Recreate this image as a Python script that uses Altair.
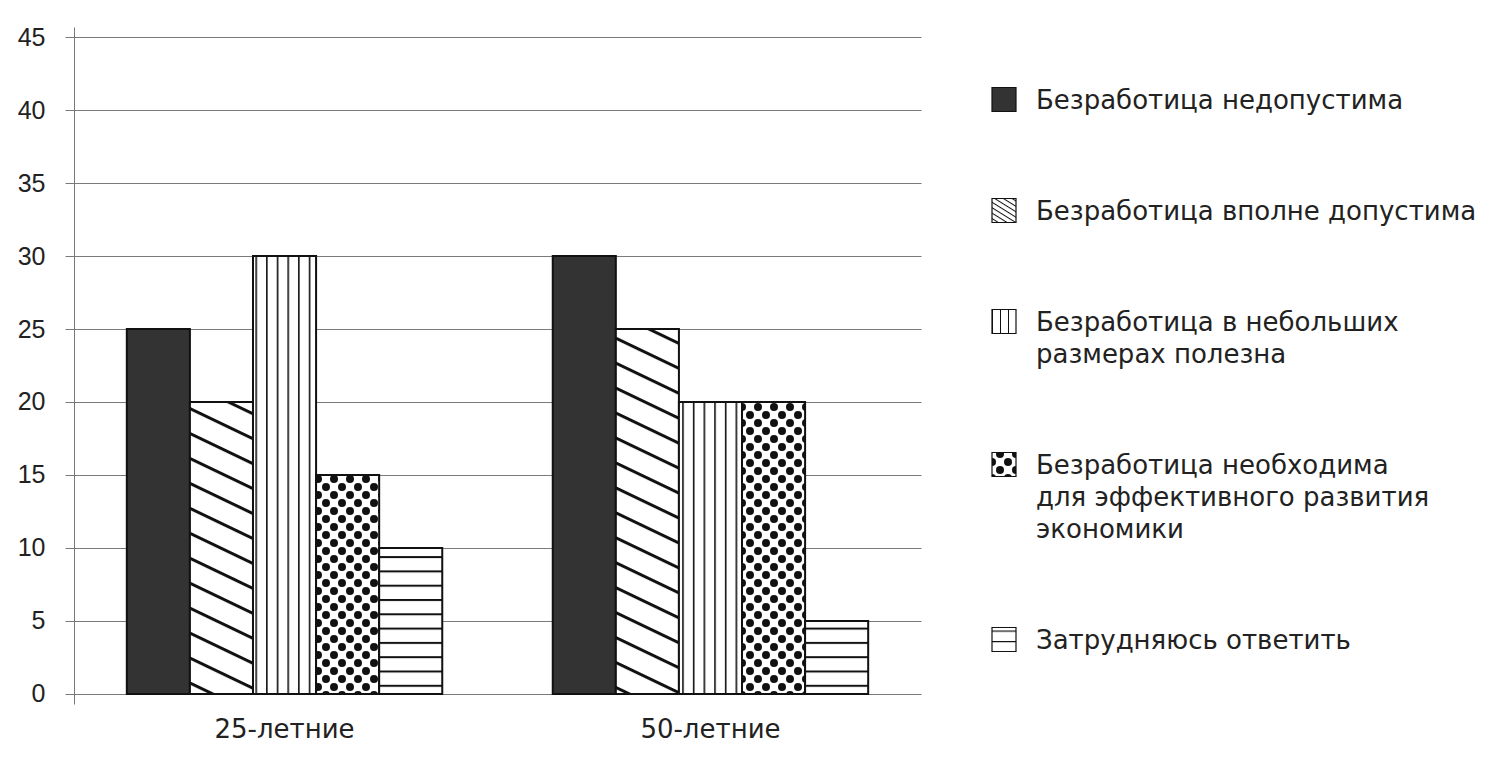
import altair as alt
import pandas as pd
import jinja2

# ---------------- data ----------------
groups = ["25-летние", "50-летние"]
series = [
    "Безработица недопустима",
    "Безработица вполне допустима",
    "Безработица в небольших\nразмерах полезна",
    "Безработица необходима\nдля эффективного развития\nэкономики",
    "Затрудняюсь ответить",
]
values_25 = [25, 20, 30, 15, 10]
values_50 = [30, 25, 20, 20, 5]
y_ticks = [0, 5, 10, 15, 20, 25, 30, 35, 40, 45]

# fills: solid dark + SVG patterns defined in the page template
fills = ["#333333", "url(#p-diag)", "url(#p-vert)", "url(#p-dots)", "url(#p-horiz)"]
legend_fills = ["#333333", "url(#p-diag-s)", "url(#p-vert-s)", "url(#p-dots)", "url(#p-horiz-s)"]

rows = []
for g, vals in zip(groups, [values_25, values_50]):
    for s, v in zip(series, vals):
        rows.append({"group": g, "series": s, "value": v})
df = pd.DataFrame(rows)

FONT = "DejaVu Sans"
AXIS_GRAY = "#7a7a7a"

x_enc = alt.X(
    "group:N",
    sort=groups,
    scale=alt.Scale(paddingInner=0.2594, paddingOuter=0.124),
    axis=alt.Axis(
        title=None, labelAngle=0, domain=False, ticks=False, grid=False,
        labelFont=FONT, labelFontSize=26, labelColor="#222222", labelPadding=12,
    ),
)
xoff_enc = alt.XOffset("series:N", sort=series,
                       scale=alt.Scale(paddingInner=0, paddingOuter=0))
y_enc = alt.Y(
    "value:Q",
    scale=alt.Scale(domain=[-0.69, 45.69], nice=False, zero=False),
    axis=alt.Axis(
        title=None, values=y_ticks, grid=True, gridColor=AXIS_GRAY, gridWidth=1,
        domain=True, domainColor=AXIS_GRAY, domainWidth=1,
        ticks=True, tickSize=9, tickColor=AXIS_GRAY, tickWidth=1,
        labelFont="Liberation Sans", labelFontSize=25, labelColor="#222222",
        labelPadding=20,
    ),
)

bars = alt.Chart(df).mark_bar(stroke="#111111", strokeWidth=2).encode(
    x=x_enc,
    xOffset=xoff_enc,
    y=y_enc,
    y2=alt.datum(0),
    fill=alt.Fill(
        "series:N",
        sort=series,
        scale=alt.Scale(domain=series, range=fills),
        legend=None,
    ),
)

# invisible twin layer that only carries the legend (with finer legend patterns)
legend_layer = alt.Chart(df).mark_bar(stroke="#111111", strokeWidth=1.2, opacity=0).encode(
    x=x_enc,
    xOffset=xoff_enc,
    y=y_enc,
    y2=alt.datum(0),
    fill=alt.Fill(
        "series:N",
        sort=series,
        scale=alt.Scale(domain=series, range=legend_fills),
        legend=alt.Legend(
            title=None, orient="none", legendX=917, legendY=69,
            symbolType="M-1,-1.79H1V0.21H-1Z", symbolSize=576,
            symbolStrokeColor="#111111", symbolStrokeWidth=1.2, symbolOpacity=1,
            labelFont=FONT, labelFontSize=26, labelColor="#222222",
            labelOffset=19, labelLimit=700, labelBaseline="alphabetic",
            labelExpr="split(datum.label, '\\n')",
            rowPadding=82, padding=0, gridAlign="each",
        ),
    ),
)

chart = alt.layer(bars, legend_layer).resolve_scale(
    fill="independent"
).resolve_legend(
    fill="independent"
).properties(
    width=847,
    height=677,
    padding={"left": 66, "top": 19, "right": 570, "bottom": 55},
    autosize=alt.AutoSizeParams(type="none"),
).configure(
    style={"guide-label": {"lineHeight": 32}},
    view=alt.ViewConfig(stroke=None),
)

PATTERN_DEFS = """
<svg width="0" height="0" style="position:absolute;left:0;top:0" aria-hidden="true">
  <defs>
    <pattern id="p-diag" patternUnits="userSpaceOnUse" width="20" height="22.5" patternTransform="rotate(25.6)">
      <rect width="20" height="22.5" fill="#ffffff"/>
      <rect y="0" width="20" height="3" fill="#111111"/>
    </pattern>
    <pattern id="p-vert" patternUnits="userSpaceOnUse" width="10.67" height="10">
      <rect width="10.67" height="10" fill="#ffffff"/>
      <rect x="0" width="1.6" height="10" fill="#111111"/>
    </pattern>
    <pattern id="p-dots" patternUnits="userSpaceOnUse" width="16" height="16">
      <rect width="16" height="16" fill="#ffffff"/>
      <circle cx="4" cy="4" r="4" fill="#111111"/>
      <circle cx="12" cy="12" r="4" fill="#111111"/>
    </pattern>
    <pattern id="p-horiz" patternUnits="userSpaceOnUse" width="10" height="14.3">
      <rect width="10" height="14.3" fill="#ffffff"/>
      <rect y="0" width="10" height="2" fill="#111111"/>
    </pattern>
    <pattern id="p-diag-s" patternUnits="userSpaceOnUse" width="10" height="4.6" patternTransform="rotate(32)">
      <rect width="10" height="4.6" fill="#ffffff"/>
      <rect y="0" width="10" height="1" fill="#111111"/>
    </pattern>
    <pattern id="p-vert-s" patternUnits="userSpaceOnUse" width="8" height="10" x="-4">
      <rect width="8" height="10" fill="#ffffff"/>
      <rect x="0" width="1" height="10" fill="#111111"/>
    </pattern>
    <pattern id="p-horiz-s" patternUnits="userSpaceOnUse" width="10" height="10.5" y="-8">
      <rect width="10" height="10.5" fill="#ffffff"/>
      <rect y="0" width="10" height="1.2" fill="#111111"/>
    </pattern>
  </defs>
</svg>
"""

TEMPLATE = jinja2.Template(
    """<!DOCTYPE html>
<html>
<head>
<meta charset="utf-8">
<style>
  #{{ output_div }}.vega-embed { width: 100%; display: flex; }
</style>
<script type="text/javascript" src="{{ base_url }}/vega@{{ vega_version }}"></script>
<script type="text/javascript" src="{{ base_url }}/vega-lite@{{ vegalite_version }}"></script>
<script type="text/javascript" src="{{ base_url }}/vega-embed@{{ vegaembed_version }}"></script>
</head>
<body>
"""
    + PATTERN_DEFS
    + """
<div id="{{ output_div }}"></div>
<script>
  vegaEmbed("#{{ output_div }}", {{ spec }}, {{ embed_options }}).catch(console.error);
</script>
</body>
</html>
"""
)

try:
    chart.save("out.html", embed_options={"renderer": "svg", "actions": False}, template=TEMPLATE)
except TypeError:
    chart.save("out.html", embed_options={"renderer": "svg", "actions": False})
